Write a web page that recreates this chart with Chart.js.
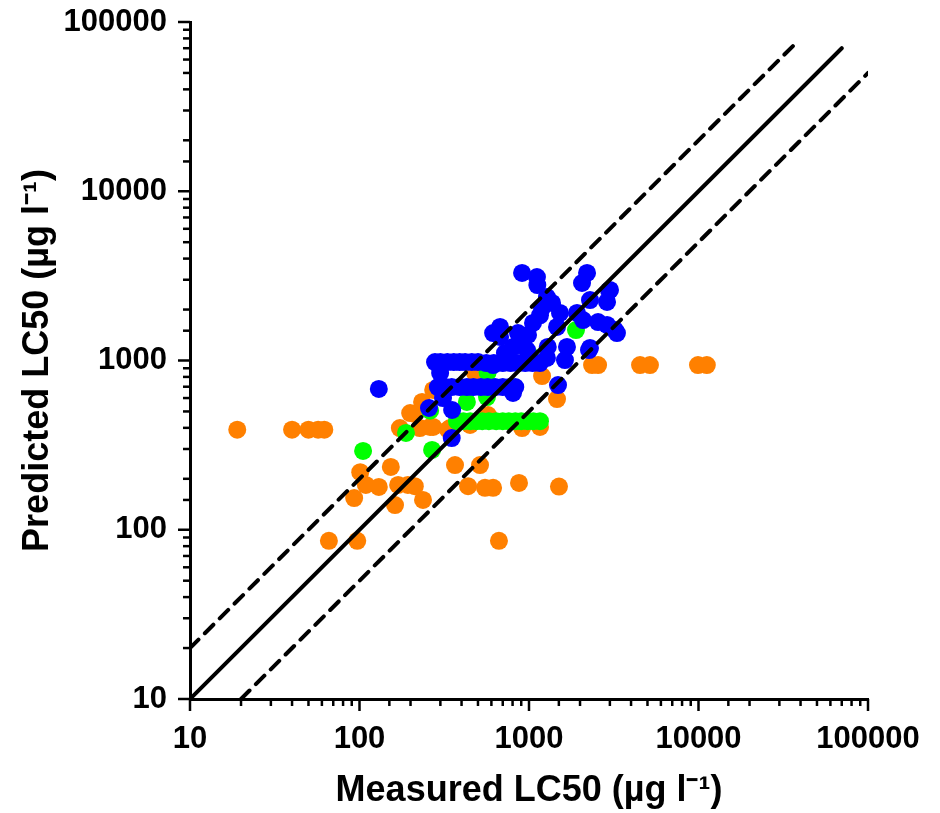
<!DOCTYPE html>
<html>
<head>
<meta charset="utf-8">
<script src="https://cdn.jsdelivr.net/npm/chart.js@4.4.1/dist/chart.umd.min.js"></script>
<style>
  body { margin: 0; background: #fff; }
  #wrap { width: 940px; height: 813px; }
</style>
</head>
<body>
<div id="wrap"><canvas id="lcChart" width="940" height="813"></canvas></div>
<script>
// measured (x) vs predicted (y) LC50, ug/l
const orangeX = [19, 40, 50, 57, 62, 66, 97, 93, 101, 109, 130, 153, 162, 169, 193, 212, 237,
  173, 199, 212, 227, 234, 240, 261, 272, 272, 333, 342, 366, 514, 437, 550, 614, 873, 1503, 665,
  449, 480, 573, 910, 1161, 1194, 1463, 2355, 2556, 4520, 5170, 9930, 11200];
const orangeY = [390, 390, 390, 390, 390, 86, 86, 154, 219, 184, 179, 235, 140, 184, 184, 181, 150,
  399, 489, 483, 399, 569, 531, 405, 670, 405, 390, 399, 241, 241, 181, 177, 177, 189, 180, 86,
  416, 843, 476, 399, 405, 809, 592, 940, 940, 940, 940, 940, 940];

const greenX = [105, 188, 268, 261, 430, 565, 570, 1010, 1893,
  376, 410, 450, 490, 530, 580, 640, 700, 760, 830, 900, 980, 1060, 1161];
const greenY = [292, 373, 296, 505, 569, 608, 850, 1077, 1514,
  438, 438, 438, 438, 438, 438, 438, 438, 438, 438, 438, 438, 438, 438];

const blueX = [130, 350, 257, 352, 311, 299,
  279, 300, 330, 360, 390, 420, 460, 500,
  290, 320, 350, 390, 430, 470, 520, 570, 630, 700, 770, 830,
  560, 620, 700, 780, 860, 950, 1050, 1160,
  614, 675, 861, 910, 1114, 1120, 2200, 2055, 3006, 2887, 2290, 1276, 1194, 1524, 1920, 2083,
  2555, 3217, 2887, 1056, 987, 885, 805, 1675, 2290, 1630, 1276, 1483, 805, 2966, 3303, 2260,
  721, 1463, 1161, 1368, 675, 973, 614, 1290];
const blueY = [679, 348, 524, 510, 600, 843,
  979, 979, 979, 979, 979, 979, 979, 979,
  697, 697, 697, 697, 697, 697, 697, 697, 697, 697, 697, 697,
  966, 966, 966, 966, 966, 966, 966, 966,
  1452, 1578, 1452, 3290, 3112, 2790, 3290, 2870, 2610, 2220, 2275, 2370, 2040, 1910, 1910, 1734,
  1688, 1514, 1622, 1667, 1416, 1322, 1202, 1202, 1186, 1006, 1035, 716, 643, 2590, 1452, 1153,
  1107, 1578, 1850, 2190, 1377, 1153, 940, 1202];

// 1:1 line and factor-of-2 lines
const oneToOneX = [10, 70000];
const upperX = [10, 38000];
const lowerX = [20, 100000];
const axisMin = 10;
const axisMax = 100000;

function toPoints(xs, ys) {
  return xs.map((x, i) => ({ x: x, y: ys[i] }));
}

const isMajor = (v) => Math.abs(Math.log10(v) - Math.round(Math.log10(v))) < 1e-9;

// draws major/minor tick marks on both axes
const tickMarks = {
  id: "tickMarks",
  afterDraw(chart) {
    const ctx = chart.ctx;
    const xs = chart.scales.x;
    const ys = chart.scales.y;
    ctx.save();
    ctx.strokeStyle = "#000";
    ctx.lineWidth = 2.5;
    xs.ticks.forEach((t) => {
      const px = xs.getPixelForValue(t.value);
      const len = isMajor(t.value) ? 12 : 7;
      ctx.beginPath();
      ctx.moveTo(px, xs.top);
      ctx.lineTo(px, xs.top + len);
      ctx.stroke();
    });
    ys.ticks.forEach((t) => {
      const py = ys.getPixelForValue(t.value);
      const len = isMajor(t.value) ? 12 : 7;
      ctx.beginPath();
      ctx.moveTo(ys.right, py);
      ctx.lineTo(ys.right - len, py);
      ctx.stroke();
    });
    ctx.restore();
  },
};

const tickFont = { family: "'Liberation Sans', Arial, sans-serif", size: 31, weight: "bold" };
const titleFont = { family: "'Liberation Sans', Arial, sans-serif", size: 36, weight: "bold" };

const lineStyle = {
  type: "line",
  showLine: true,
  pointRadius: 0,
  borderColor: "#000",
  borderWidth: 4,
  borderCapStyle: "round",
  fill: false,
};

new Chart(document.getElementById("lcChart"), {
  type: "scatter",
  data: {
    datasets: [
      Object.assign({ label: "1:1", data: toPoints(oneToOneX, oneToOneX) }, lineStyle),
      Object.assign({ label: "x2", data: toPoints(upperX, upperX.map((v) => v * 2)), borderDash: [12, 9] }, lineStyle),
      Object.assign({ label: "/2", data: toPoints(lowerX, lowerX.map((v) => v / 2)), borderDash: [12, 9] }, lineStyle),
      { label: "blue", data: toPoints(blueX, blueY), backgroundColor: "#0000ff", borderWidth: 0, pointRadius: 9 },
      { label: "green", data: toPoints(greenX, greenY), backgroundColor: "#00ff00", borderWidth: 0, pointRadius: 9 },
      { label: "orange", data: toPoints(orangeX, orangeY), backgroundColor: "#ff8000", borderWidth: 0, pointRadius: 9 },
    ],
  },
  options: {
    responsive: false,
    animation: false,
    layout: { padding: { top: 22, right: 72, left: 0, bottom: 0 } },
    plugins: { legend: { display: false }, tooltip: { enabled: false } },
    scales: {
      x: {
        type: "logarithmic",
        min: axisMin,
        max: axisMax,
        grid: { display: false },
        border: { display: true, color: "#000", width: 3 },
        ticks: {
          color: "#000",
          font: tickFont,
          padding: 14,
          autoSkip: false,
          maxRotation: 0,
          callback: (v) => (isMajor(v) ? String(v) : ""),
        },
        title: {
          display: true,
          text: "Measured LC50 (\u00b5g l\u207b\u00b9)",
          color: "#000",
          font: titleFont,
          padding: { top: 0, bottom: 0 },
        },
        afterFit: (scale) => {
          scale.height = 114;
          scale.paddingLeft = 0;
          scale.paddingRight = 0;
        },
      },
      y: {
        type: "logarithmic",
        min: axisMin,
        max: axisMax,
        grid: { display: false },
        border: { display: true, color: "#000", width: 3 },
        ticks: {
          color: "#000",
          font: tickFont,
          padding: 15,
          autoSkip: false,
          callback: (v) => (isMajor(v) ? String(v) : ""),
        },
        title: {
          display: true,
          text: "Predicted LC50 (\u00b5g l\u207b\u00b9)",
          color: "#000",
          font: titleFont,
          padding: { top: 16, bottom: 0 },
        },
        afterFit: (scale) => {
          scale.width = 190;
          scale.paddingTop = 0;
          scale.paddingBottom = 0;
        },
      },
    },
  },
  plugins: [tickMarks],
});
</script>
</body>
</html>
